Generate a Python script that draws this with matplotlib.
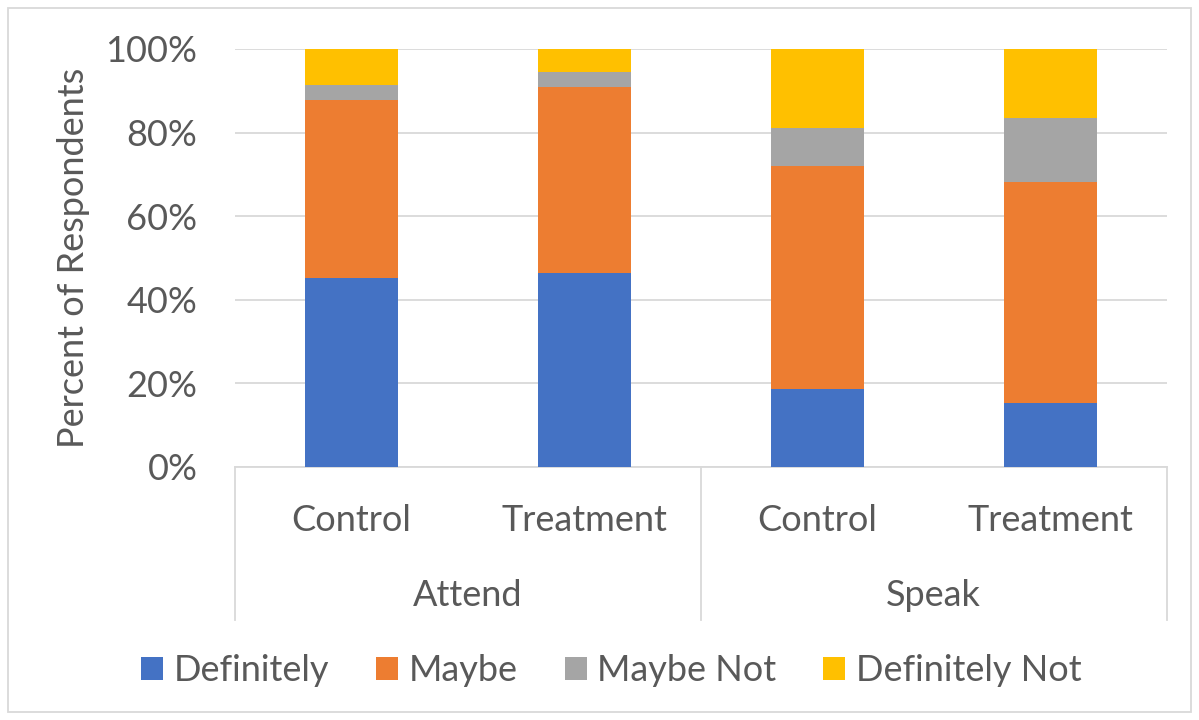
import matplotlib
matplotlib.use("Agg")
import matplotlib.pyplot as plt
from matplotlib.patches import Rectangle, Patch
import numpy as np

plt.rcParams['font.family'] = ['Lato', 'DejaVu Sans']

groups = ["Attend", "Speak"]
conditions = ["Control", "Treatment", "Control", "Treatment"]
responses = ["Definitely", "Maybe", "Maybe Not", "Definitely Not"]

definitely = [45.1, 46.3, 18.7, 15.3]
maybe = [42.7, 44.6, 53.4, 52.8]
maybe_not = [3.6, 3.5, 8.9, 15.4]
definitely_not = [8.6, 5.6, 19.0, 16.5]

colors = ["#4472C4", "#ED7D31", "#A5A5A5", "#FFC000"]
text_color = "#595959"
grid_color = "#D9D9D9"
fs = 26

fig = plt.figure(figsize=(11.99, 7.2), dpi=100)
ax = fig.add_axes([0.196, 0.3514, 0.777, 0.5806])

x = np.arange(len(conditions))
bottom = np.zeros(len(conditions))
for vals, col, name in zip([definitely, maybe, maybe_not, definitely_not], colors, responses):
    ax.bar(x, vals, width=0.4, bottom=bottom, color=col, label=name, zorder=3)
    bottom += np.array(vals)

ax.set_xlim(-0.5, len(conditions) - 0.5)
ax.set_ylim(0, 100)
ax.set_yticks(np.arange(0, 101, 20))
ax.set_yticklabels([f"{v}%" for v in range(0, 101, 20)])
ax.yaxis.grid(True, color=grid_color, linewidth=1.3, zorder=0)
ax.tick_params(axis='y', length=0, pad=27, labelsize=fs, labelcolor=text_color)
ax.set_xticks([])
for side in ["top", "right", "left"]:
    ax.spines[side].set_visible(False)
ax.spines["bottom"].set_color(grid_color)
ax.spines["bottom"].set_linewidth(1.3)

ax.set_ylabel("Percent of Respondents", fontsize=fs, color=text_color)
ax.yaxis.set_label_coords(-0.156, 0.5)

# two-level category axis
trans = ax.get_xaxis_transform()
for xi, cond in zip(x, conditions):
    ax.text(xi, -0.127, cond, transform=trans, ha="center", va="center",
            fontsize=fs, color=text_color)
for gi, grp in enumerate(groups):
    ax.text(gi * 2 + 0.5, -0.307, grp, transform=trans, ha="center", va="center",
            fontsize=fs, color=text_color)
for sep in [-0.5, 1.5, 3.5]:
    ax.plot([sep, sep], [0, -0.366], transform=trans, color=grid_color,
            linewidth=1.3, clip_on=False)

handles = [Patch(facecolor=c, label=r) for c, r in zip(colors, responses)]
leg = fig.legend(handles=handles, loc="center", bbox_to_anchor=(0.51, 0.069), ncol=4,
                 frameon=False, fontsize=fs, handlelength=0.6, handleheight=0.6,
                 handletextpad=0.3, columnspacing=1.3)
for t in leg.get_texts():
    t.set_color(text_color)

fig.patches.append(Rectangle((0.007, 0.011), 0.986, 0.978, transform=fig.transFigure,
                             fill=False, edgecolor=grid_color, linewidth=1.3))

fig.savefig("out.png", dpi=100)
